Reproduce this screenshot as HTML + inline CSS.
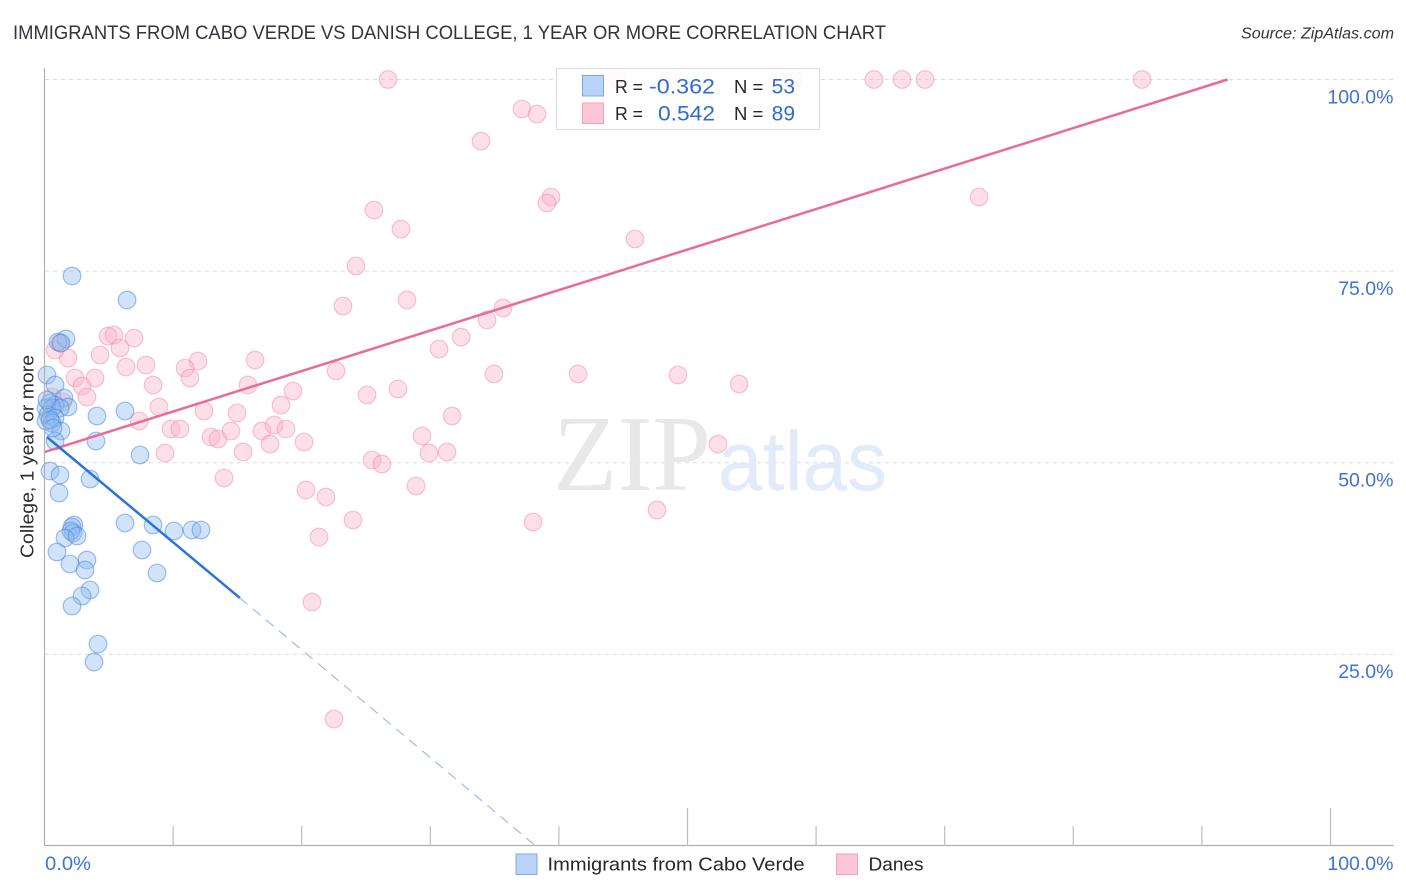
<!DOCTYPE html>
<html lang="en">
<head>
<meta charset="utf-8">
<title>Immigrants from Cabo Verde vs Danish College Correlation Chart</title>
<style>
html,body{margin:0;padding:0;background:#fff;}
body{width:1406px;height:892px;overflow:hidden;font-family:"Liberation Sans",sans-serif;}
svg{display:block;}
text{font-family:"Liberation Sans",sans-serif;}
</style>
</head>
<body>
<svg id="chart" width="1406" height="892" viewBox="0 0 1406 892" xmlns="http://www.w3.org/2000/svg">
  <rect x="0" y="0" width="1406" height="892" fill="#ffffff"/>
  <text x="13" y="39" font-size="19.5" fill="#33333a" textLength="873" lengthAdjust="spacingAndGlyphs">IMMIGRANTS FROM CABO VERDE VS DANISH COLLEGE, 1 YEAR OR MORE CORRELATION CHART</text>
  <text x="1241" y="38.5" font-size="15.5" font-style="italic" fill="#33333a" textLength="153" lengthAdjust="spacingAndGlyphs">Source: ZipAtlas.com</text>
  <g id="grid"></g>
  <g>
    <text x="553" y="490" font-size="108" fill="#e8e8e8" style="font-family:'Liberation Serif',serif" textLength="158" lengthAdjust="spacingAndGlyphs">ZIP</text>
    <text x="718" y="490" font-size="84" fill="#e1ebf9" textLength="169" lengthAdjust="spacingAndGlyphs">atlas</text>
  </g>
  <g id="points-pink"></g>
  <g id="points-blue"></g>
  <g id="trends"></g>
  <g id="axes"></g>
  <text transform="translate(33.5,558) rotate(-90)" font-size="18.5" fill="#2b2b30" textLength="203" lengthAdjust="spacingAndGlyphs">College, 1 year or more</text>

  <g>
    <rect x="556.5" y="68.5" width="263" height="61" fill="#ffffff" fill-opacity="0.88" stroke="#dcdcdc" stroke-width="1"/>
    <rect x="582.5" y="75.5" width="21" height="20.5" fill="#b9d3f8" stroke="#7fa9e2" stroke-width="1"/>
    <rect x="582.5" y="103" width="21" height="20.5" fill="#fcc6d6" stroke="#f0a3bb" stroke-width="1"/>
    <text x="615" y="93" font-size="18.5" fill="#26262b" textLength="28" lengthAdjust="spacingAndGlyphs">R =</text>
    <text x="649" y="93.5" font-size="21.5" fill="#2f6bd0" textLength="66" lengthAdjust="spacingAndGlyphs">-0.362</text>
    <text x="734" y="93" font-size="18.5" fill="#26262b">N =</text>
    <text x="795" y="93.5" font-size="21" fill="#2f6bd0" text-anchor="end">53</text>
    <text x="615" y="120" font-size="18.5" fill="#26262b" textLength="28" lengthAdjust="spacingAndGlyphs">R =</text>
    <text x="658" y="120.5" font-size="21.5" fill="#2f6bd0" textLength="57" lengthAdjust="spacingAndGlyphs">0.542</text>
    <text x="734" y="120" font-size="18.5" fill="#26262b">N =</text>
    <text x="795" y="120.5" font-size="21" fill="#2f6bd0" text-anchor="end">89</text>
  </g>

  <g>
    <rect x="516" y="854" width="21" height="20.5" fill="#b9d3f8" stroke="#7fa9e2" stroke-width="1"/>
    <text x="547.5" y="870.5" font-size="18.5" fill="#26262b" textLength="257" lengthAdjust="spacingAndGlyphs">Immigrants from Cabo Verde</text>
    <rect x="836.5" y="854" width="21" height="20.5" fill="#fcc6d6" stroke="#f0a3bb" stroke-width="1"/>
    <text x="868.5" y="870.5" font-size="18.5" fill="#26262b" textLength="55" lengthAdjust="spacingAndGlyphs">Danes</text>
  </g>
</svg>
<script>
const xTickValues = [0,10,20,30,40,50,60,70,80,90,100];
const xMajorTicks = [0,50,100];
const xTickLabels = ['0.0%','100.0%'];
const yTickValues = [25,50,75,100];
const yTickLabels = ['25.0%','50.0%','75.0%','100.0%'];

const blueX = [2.14,6.42,1.67,1.05,1.28,0.19,0.82,1.52,1.83,0.43,0.82,0.12,0.58,1.21,0.27,0.82,0.12,0.58,1.28,0.82,4.00,4.08,6.26,7.43,0.43,1.21,3.54,1.13,6.26,8.44,10.07,11.47,12.17,2.29,2.14,2.22,2.06,1.59,2.53,0.97,1.98,3.30,3.15,7.58,8.75,3.54,2.92,2.14,4.16,3.85,0.19,0.43,0.66];
const blueY = [74.36,71.23,66.14,65.75,65.62,61.45,60.14,58.45,57.27,57.79,57.53,57.14,57.14,57.14,56.23,55.84,55.45,55.18,54.14,52.84,52.84,56.10,56.75,51.01,48.92,48.40,47.88,46.05,42.14,41.88,41.10,41.23,41.23,41.88,41.62,40.83,41.10,40.18,40.44,38.36,36.79,37.31,36.01,38.62,35.62,33.40,32.62,31.31,26.35,24.00,58.19,55.58,54.53];

const pinkX = [26.71,43.04,44.60,48.48,58.28,64.50,66.68,68.47,85.34,37.13,38.30,33.94,39.39,39.07,72.67,25.62,27.72,45.92,24.22,28.19,23.21,35.65,34.41,32.39,30.68,4.94,5.40,6.96,5.87,4.32,1.83,0.82,1.21,7.89,6.34,11.94,10.93,11.31,16.37,22.67,34.95,41.49,49.26,54.01,2.37,3.93,2.92,3.30,8.44,15.82,19.32,27.49,25.08,18.39,12.40,14.97,8.90,7.35,9.84,10.54,12.95,13.49,14.50,16.91,17.85,18.78,15.44,17.54,20.18,9.37,31.69,29.35,29.90,31.30,13.96,25.47,26.24,28.89,20.33,21.89,23.99,21.35,37.99,47.63,52.37,20.80,22.51,1.44,0.58];
const pinkY = [100,100,100,100,100,100,100,100,100,96.15,95.50,91.97,84.67,83.89,84.67,82.97,80.49,79.19,75.67,71.23,70.45,70.19,68.62,66.40,64.84,66.53,66.67,66.27,64.97,64.06,63.66,64.71,65.62,62.75,62.49,63.27,62.36,61.06,63.40,61.97,61.58,61.58,61.45,60.27,61.06,61.06,60.01,58.58,60.14,60.14,59.36,59.62,58.84,57.53,56.75,56.49,57.27,55.45,54.40,54.40,53.36,53.10,54.14,54.14,54.92,54.40,51.40,52.44,52.71,51.27,56.10,53.49,51.27,51.40,48.01,50.36,49.84,46.97,46.44,45.53,42.53,40.31,42.27,43.83,52.44,31.83,16.57,57.92,58.58];

const blueTrendX = [0.19,15.19];
const blueTrendY = [53.36,32.36];
const blueDashX = [15.19,38.2];
const blueDashY = [32.36,0];
const pinkTrendX = [0,92];
const pinkTrendY = [51.4,100];

const SVGNS = 'http://www.w3.org/2000/svg';
function sx(v){ return 44.5 + v * 12.86; }
function sy(v){ return 846 - v * 7.665; }
function mk(tag, parent, attrs){
  const el = document.createElementNS(SVGNS, tag);
  for (const k in attrs) el.setAttribute(k, attrs[k]);
  parent.appendChild(el);
  return el;
}

const grid = document.getElementById('grid');
yTickValues.forEach(function(v){
  const g = mk('line', grid, {x1:45, x2:1394, y1:sy(v), y2:sy(v), stroke:'#dcdcdc', 'stroke-width':1, 'stroke-dasharray':'4 4'});
  
  
});

function drawPoints(groupId, xs, ys, fill, stroke){
  const group = document.getElementById(groupId);
  xs.forEach(function(x, i){
    const c = mk('circle', group, {cx:sx(x), cy:sy(ys[i]), r:8.8, fill:fill, stroke:stroke, 'stroke-width':1.2});
    
    
  });
}
drawPoints('points-pink', pinkX, pinkY, 'rgba(250,178,200,0.42)', 'rgba(238,140,172,0.5)');
drawPoints('points-blue', blueX, blueY, 'rgba(140,185,240,0.4)', 'rgba(70,135,222,0.52)');

const trends = document.getElementById('trends');
const t1 = mk('line', trends, {x1:sx(pinkTrendX[0]), y1:sy(pinkTrendY[0]), x2:sx(pinkTrendX[1]), y2:sy(pinkTrendY[1]), stroke:'#e96b9b', 'stroke-width':2.5});


const t2 = mk('line', trends, {x1:sx(blueTrendX[0]), y1:sy(blueTrendY[0]), x2:sx(blueTrendX[1]), y2:sy(blueTrendY[1]), stroke:'#2b74dc', 'stroke-width':2.5});


const t3 = mk('line', trends, {x1:sx(blueDashX[0]), y1:sy(blueDashY[0]), x2:sx(blueDashX[1]), y2:sy(blueDashY[1]), stroke:'#9db4e4', 'stroke-width':1.1, 'stroke-dasharray':'10 7'});



const axes = document.getElementById('axes');
const yAxis = mk('line', axes, {x1:44.5, x2:44.5, y1:68, y2:846, stroke:'#b0b0b0', 'stroke-width':1.2});


const xAxis = mk('line', axes, {x1:44, x2:1394, y1:845.5, y2:845.5, stroke:'#b0b0b0', 'stroke-width':1.2});


xTickValues.forEach(function(v){
  if (v === 0) return;
  const major = xMajorTicks.indexOf(v) >= 0;
  const t = mk('line', axes, {x1:sx(v), x2:sx(v), y1:major ? 808 : 826, y2:846, stroke:'#bdbdbd', 'stroke-width':1.2});
  
  
});
yTickValues.forEach(function(v, i){
  const t = mk('text', axes, {x:1393.5, y:sy(v) + 23.8, 'font-size':19.5, fill:'#3f73d3', 'text-anchor':'end'});
  t.textContent = yTickLabels[i];
  
  
});
const xl0 = mk('text', axes, {x:45, y:870, 'font-size':19.5, fill:'#3f73d3', textLength:46, lengthAdjust:'spacingAndGlyphs'});
xl0.textContent = xTickLabels[0];


const xl1 = mk('text', axes, {x:1393.5, y:870, 'font-size':19.5, fill:'#3f73d3', 'text-anchor':'end'});
xl1.textContent = xTickLabels[1];


</script>
</body>
</html>
